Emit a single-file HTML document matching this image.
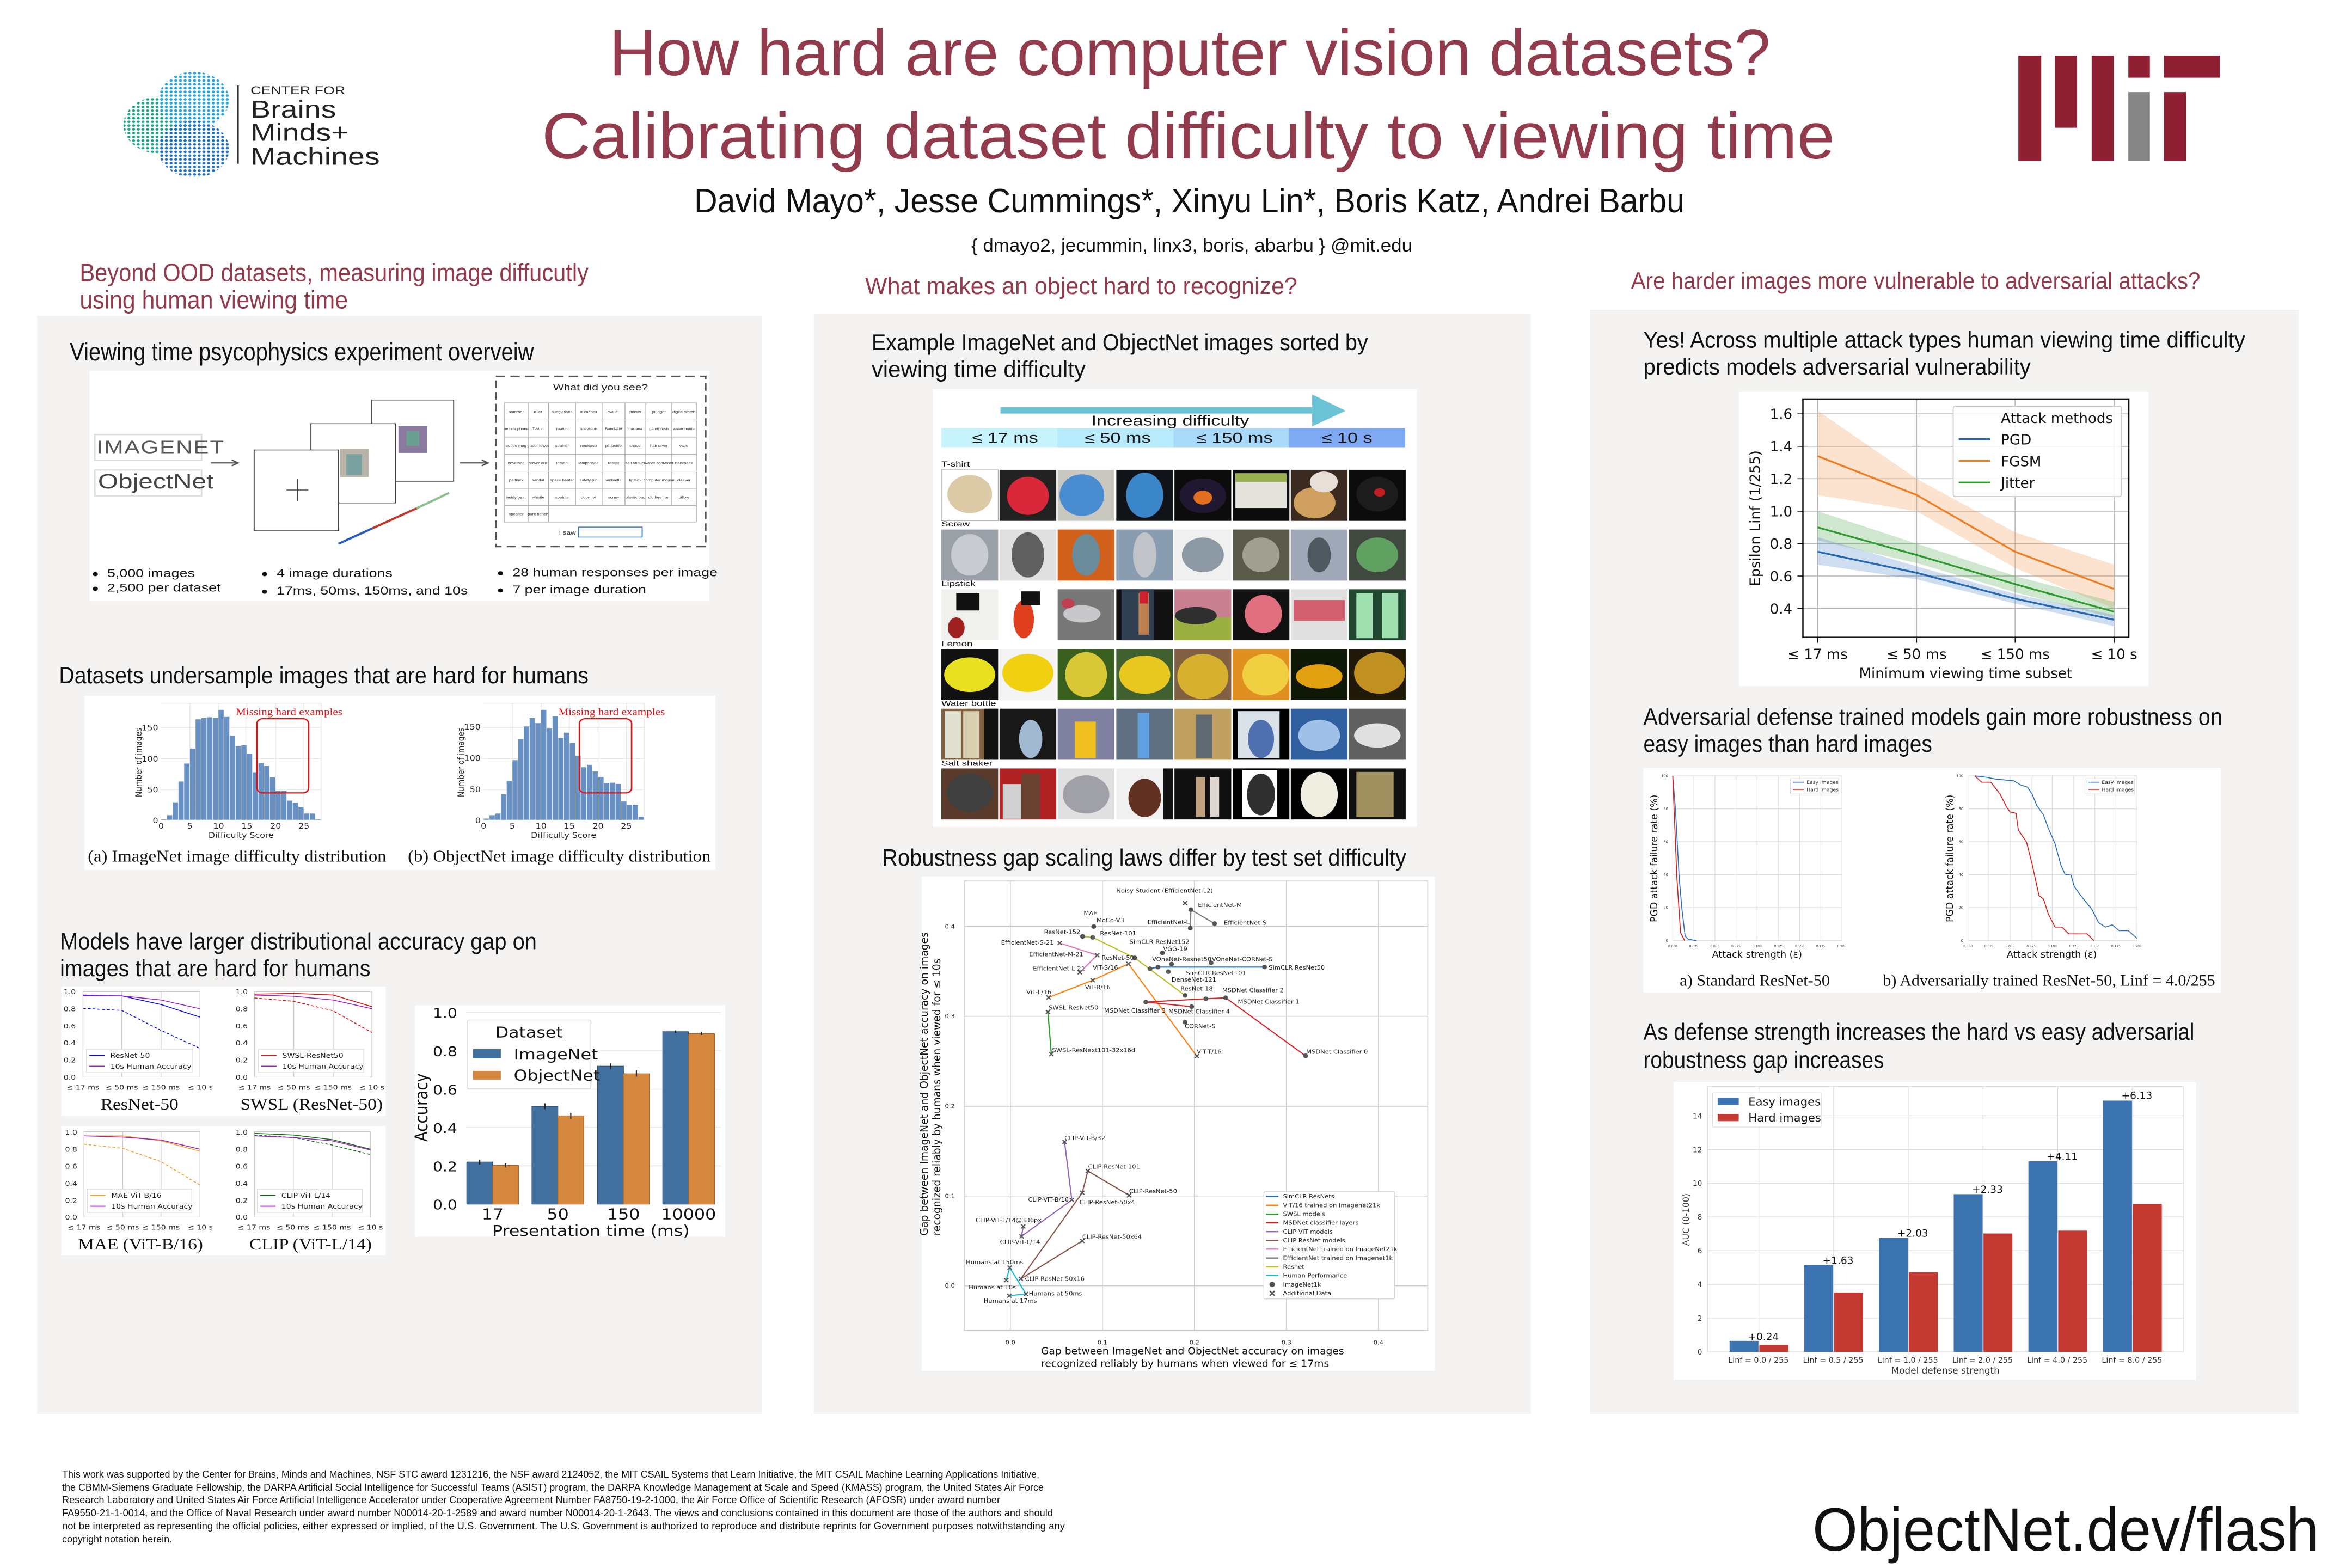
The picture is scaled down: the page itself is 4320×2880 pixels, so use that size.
<!DOCTYPE html>
<html><head><meta charset="utf-8"><style>
html,body{margin:0;padding:0;background:#fff;width:4320px;height:2880px;overflow:hidden}
svg{display:block}
.s{font-family:"Liberation Sans",sans-serif}
.d{font-family:"DejaVu Sans","Liberation Sans",sans-serif}
.r{font-family:"Liberation Serif",serif}
</style></head><body>
<svg width="4320" height="2880" viewBox="0 0 4320 2880" xmlns="http://www.w3.org/2000/svg">
<defs>
<pattern id="pg" width="9" height="9" patternUnits="userSpaceOnUse"><circle cx="4.5" cy="4.5" r="3" fill="#1aa38a"/></pattern>
<pattern id="pb" width="9" height="9" patternUnits="userSpaceOnUse"><circle cx="4.5" cy="4.5" r="3" fill="#1e6fc0"/></pattern>
<pattern id="pc" width="9" height="9" patternUnits="userSpaceOnUse"><circle cx="4.5" cy="4.5" r="3" fill="#22a6dc"/></pattern>
</defs>
<rect width="4320" height="2880" fill="#fff"/>
<!-- panels -->
<rect x="68" y="580" width="1332" height="2017" fill="#f4f3f2"/>
<rect x="1495" y="576" width="1317" height="2021" fill="#f4f3f2"/>
<rect x="2920" y="569" width="1302" height="2028" fill="#f4f3f2"/>

<!-- title -->
<g class="s" fill="#913b4c">
<text x="1119" y="138" font-size="120" textLength="2133" lengthAdjust="spacingAndGlyphs">How hard are computer vision datasets?</text>
<text x="995" y="291" font-size="120" textLength="2375" lengthAdjust="spacingAndGlyphs">Calibrating dataset difficulty to viewing time</text>
<text x="1589" y="540" font-size="44" textLength="794" lengthAdjust="spacingAndGlyphs">What makes an object hard to recognize?</text>
</g>
<text class="s" x="1275" y="390" font-size="62" textLength="1819" lengthAdjust="spacingAndGlyphs" fill="#111">David Mayo*, Jesse Cummings*, Xinyu Lin*, Boris Katz, Andrei Barbu</text>
<text class="s" x="1784" y="462" font-size="33" textLength="810" lengthAdjust="spacingAndGlyphs" fill="#111">{ dmayo2, jecummin, linx3, boris, abarbu } @mit.edu</text>
<text class="s" x="1620" y="1590" font-size="44" textLength="963" lengthAdjust="spacingAndGlyphs" fill="#111">Robustness gap scaling laws differ by test set difficulty</text>

<!-- footer -->
<g class="s" fill="#111" font-size="18">
<text x="114" y="2714" textLength="1795" lengthAdjust="spacingAndGlyphs">This work was supported by the Center for Brains, Minds and Machines, NSF STC award 1231216, the NSF award 2124052, the MIT CSAIL Systems that Learn Initiative, the MIT CSAIL Machine Learning Applications Initiative,</text>
<text x="114" y="2738" textLength="1803" lengthAdjust="spacingAndGlyphs">the CBMM-Siemens Graduate Fellowship, the DARPA Artificial Social Intelligence for Successful Teams (ASIST) program, the DARPA Knowledge Management at Scale and Speed (KMASS) program, the United States Air Force</text>
<text x="114" y="2761" textLength="1723" lengthAdjust="spacingAndGlyphs">Research Laboratory and United States Air Force Artificial Intelligence Accelerator under Cooperative Agreement Number FA8750-19-2-1000, the Air Force Office of Scientific Research (AFOSR) under award number</text>
<text x="114" y="2785" textLength="1820" lengthAdjust="spacingAndGlyphs">FA9550-21-1-0014, and the Office of Naval Research under award number N00014-20-1-2589 and award number N00014-20-1-2643. The views and conclusions contained in this document are those of the authors and should</text>
<text x="114" y="2809" textLength="1842" lengthAdjust="spacingAndGlyphs">not be interpreted as representing the official policies, either expressed or implied, of the U.S. Government. The U.S. Government is authorized to reproduce and distribute reprints for Government purposes notwithstanding any</text>
<text x="114" y="2833">copyright notation herein.</text>
</g>
<text class="s" x="3329" y="2848" font-size="112" textLength="930" lengthAdjust="spacingAndGlyphs" fill="#111">ObjectNet.dev/flash</text>

<!-- ZOOM1 region -->
<g transform="translate(0,0) scale(0.95663,0.76531)">
<circle cx="305" cy="300" r="68" fill="url(#pg)"/>
<circle cx="372" cy="240" r="68" fill="url(#pc)"/>
<circle cx="372" cy="358" r="68" fill="url(#pb)"/>
<line x1="457" y1="205" x2="457" y2="393" stroke="#333" stroke-width="3"/>
<g class="s" fill="#222">
<text x="481" y="226" font-size="28">CENTER FOR</text>
<text x="481" y="282" font-size="58">Brains</text>
<text x="481" y="338" font-size="58">Minds+</text>
<text x="481" y="395" font-size="58">Machines</text>
</g>
<g class="s" fill="#913b4c" font-size="60">
<text x="153" y="675" textLength="977" lengthAdjust="spacingAndGlyphs">Beyond OOD datasets, measuring image diffucutly</text>
<text x="153" y="740" textLength="515" lengthAdjust="spacingAndGlyphs">using human viewing time</text>
</g>
<text class="s" x="134" y="865" font-size="60" textLength="891" lengthAdjust="spacingAndGlyphs" fill="#111">Viewing time psycophysics experiment overveiw</text>
<rect x="172" y="890" width="1190" height="553" fill="#fff"/>
<rect x="182" y="1043" width="205" height="62" fill="#fff" stroke="#ddd" stroke-width="3"/>
<text class="s" x="186" y="1088" font-size="44" fill="#555" letter-spacing="2">IMAGENET</text>
<rect x="182" y="1128" width="205" height="62" fill="#fff" stroke="#ddd" stroke-width="3"/>
<text class="s" x="188" y="1172" font-size="50" fill="#444">ObjectNet</text>
<path d="M405 1111H455M445 1104l12 7-12 7M883 1111H935M925 1104l12 7-12 7" stroke="#555" stroke-width="3" fill="none"/>
<rect x="714" y="960" width="157" height="195" fill="#fff" stroke="#444" stroke-width="2"/>
<rect x="765" y="1022" width="55" height="65" fill="#8a7aa0"/>
<rect x="780" y="1035" width="25" height="35" fill="#6aa090"/>
<rect x="597" y="1017" width="162" height="190" fill="#fff" stroke="#444" stroke-width="2"/>
<rect x="653" y="1077" width="55" height="68" fill="#b8b4a8"/>
<rect x="665" y="1090" width="30" height="50" fill="#7aa0a0"/>
<rect x="488" y="1080" width="162" height="194" fill="#fff" stroke="#444" stroke-width="2"/>
<path d="M550 1176H592M571 1150V1202" stroke="#444" stroke-width="2"/>
<path d="M650 1305L715 1268" stroke="#2a5cc0" stroke-width="5"/>
<path d="M715 1268L800 1220" stroke="#c0392b" stroke-width="5"/>
<path d="M800 1220L862 1183" stroke="#8cc08c" stroke-width="5"/>
<rect x="952" y="903" width="403" height="409" fill="none" stroke="#555" stroke-width="3" stroke-dasharray="18,10"/>
<text class="s" x="1153" y="937" font-size="22" text-anchor="middle" fill="#222">What did you see?</text>
<g stroke="#aaa" stroke-width="1.5" fill="none">
<rect x="969" y="967" width="368" height="286"/>
<path d="M969 1008H1337M969 1049H1337M969 1090H1337M969 1131H1337M969 1172H1337M969 1213H1337"/>
<path d="M1014 967V1253M1053 967V1253M1105 967V1213M1156 967V1213M1200 967V1213M1240 967V1213M1290 967V1213"/>
</g>
<g class="s" font-size="8" fill="#333" text-anchor="middle">
<text x="991" y="991">hammer</text><text x="1033" y="991">ruler</text><text x="1079" y="991">sunglasses</text><text x="1130" y="991">dumbbell</text><text x="1178" y="991">wallet</text><text x="1220" y="991">printer</text><text x="1265" y="991">plunger</text><text x="1313" y="991">digital watch</text>
<text x="991" y="1032">mobile phone</text><text x="1033" y="1032">T-shirt</text><text x="1079" y="1032">match</text><text x="1130" y="1032">television</text><text x="1178" y="1032">Band-Aid</text><text x="1220" y="1032">banana</text><text x="1265" y="1032">paintbrush</text><text x="1313" y="1032">water bottle</text>
<text x="991" y="1073">coffee mug</text><text x="1033" y="1073">paper towel</text><text x="1079" y="1073">strainer</text><text x="1130" y="1073">necklace</text><text x="1178" y="1073">pill bottle</text><text x="1220" y="1073">shovel</text><text x="1265" y="1073">hair dryer</text><text x="1313" y="1073">vase</text>
<text x="991" y="1114">envelope</text><text x="1033" y="1114">power drill</text><text x="1079" y="1114">lemon</text><text x="1130" y="1114">lampshade</text><text x="1178" y="1114">racket</text><text x="1220" y="1114">salt shaker</text><text x="1265" y="1114">waste container</text><text x="1313" y="1114">backpack</text>
<text x="991" y="1155">padlock</text><text x="1033" y="1155">sandal</text><text x="1079" y="1155">space heater</text><text x="1130" y="1155">safety pin</text><text x="1178" y="1155">umbrella</text><text x="1220" y="1155">lipstick</text><text x="1265" y="1155">computer mouse</text><text x="1313" y="1155">cleaver</text>
<text x="991" y="1196">teddy bear</text><text x="1033" y="1196">whistle</text><text x="1079" y="1196">spatula</text><text x="1130" y="1196">doormat</text><text x="1178" y="1196">screw</text><text x="1220" y="1196">plastic bag</text><text x="1265" y="1196">clothes iron</text><text x="1313" y="1196">pillow</text>
<text x="991" y="1237">speaker</text><text x="1033" y="1237">park bench</text>
</g>
<text class="s" x="1073" y="1283" font-size="14" fill="#333">I saw a</text>
<rect x="1111" y="1265" width="122" height="24" fill="#fff" stroke="#3a78c8" stroke-width="2"/>
<g class="s" font-size="28" fill="#111">
<circle cx="183" cy="1378" r="5"/><circle cx="183" cy="1413" r="5"/>
<circle cx="508" cy="1378" r="5"/><circle cx="508" cy="1420" r="5"/>
<circle cx="961" cy="1376" r="5"/><circle cx="961" cy="1417" r="5"/>
<text x="206" y="1385">5,000 images</text><text x="206" y="1420">2,500 per dataset</text>
<text x="531" y="1385">4 image durations</text><text x="531" y="1427">17ms, 50ms, 150ms, and 10s</text>
<text x="984" y="1383">28 human responses per image</text><text x="984" y="1424">7 per image duration</text>
</g>
</g>

<!-- ZOOM2 region -->
<g transform="translate(3000,0) scale(0.84184,0.82908)">
<g fill="#8f1f32">
<rect x="840" y="123" width="50" height="234"/><rect x="920" y="123" width="48" height="160"/><rect x="1000" y="123" width="48" height="234"/><rect x="1080" y="123" width="47" height="49"/><rect x="1158" y="123" width="122" height="49"/><rect x="1158" y="204" width="48" height="153"/>
</g>
<rect x="1080" y="204" width="47" height="153" fill="#858585"/>
<text class="s" x="-5" y="640" font-size="52" fill="#913b4c" textLength="1242" lengthAdjust="spacingAndGlyphs">Are harder images more vulnerable to adversarial attacks?</text>
<g class="s" font-size="50" fill="#111">
<text x="22" y="770" textLength="1313" lengthAdjust="spacingAndGlyphs">Yes! Across multiple attack types human viewing time difficulty</text>
<text x="22" y="830" textLength="845" lengthAdjust="spacingAndGlyphs">predicts models adversarial vulnerability</text>
</g>
<rect x="231" y="868" width="893" height="652" fill="#fff"/>
<g stroke="#b8b8b8" stroke-width="2">
<path d="M370 1348H1081M370 1276.2H1081M370 1204.3H1081M370 1132.5H1081M370 1060.6H1081M370 988.8H1081M370 916.9H1081"/>
<path d="M402 884V1412M618 884V1412M833 884V1412M1049 884V1412"/>
</g>
<polygon points="402,909.8 618,1060.6 833,1179.2 1049,1251 1049,1348 833,1258.2 618,1132.5 402,1096.6" fill="#f5a35f" opacity="0.3"/>
<polygon points="402,1132.5 618,1204.3 833,1276.2 1049,1333.6 1049,1369.6 833,1312.1 618,1247.4 402,1197.1" fill="#5fb05f" opacity="0.3"/>
<polygon points="402,1190 618,1254.6 833,1315.7 1049,1362.4 1049,1387.5 833,1337.2 618,1283.3 402,1251" fill="#5f8fcf" opacity="0.3"/>
<polyline points="402,1010.4 618,1096.6 833,1222.3 1049,1304.9" fill="none" stroke="#f07d22" stroke-width="4"/>
<polyline points="402,1168.4 618,1229.5 833,1294.1 1049,1355.2" fill="none" stroke="#2f9a2f" stroke-width="4"/>
<polyline points="402,1222.3 618,1269 833,1326.4 1049,1373.1" fill="none" stroke="#2567b0" stroke-width="4"/>
<rect x="370" y="884" width="711" height="528" fill="none" stroke="#111" stroke-width="3"/>
<rect x="698" y="900" width="367" height="200" fill="#fff" fill-opacity="0.85" stroke="#ccc" stroke-width="2" rx="4"/>
<g class="d" font-size="31" fill="#111">
<text x="802" y="937">Attack methods</text>
<path d="M710 973H778" stroke="#2567b0" stroke-width="4"/><text x="802" y="985">PGD</text>
<path d="M710 1021H778" stroke="#f07d22" stroke-width="4"/><text x="802" y="1033">FGSM</text>
<path d="M710 1069H778" stroke="#2f9a2f" stroke-width="4"/><text x="802" y="1081">Jitter</text>
<g text-anchor="end"><text x="347" y="928">1.6</text><text x="347" y="1000">1.4</text><text x="347" y="1072">1.2</text><text x="347" y="1144">1.0</text><text x="347" y="1216">0.8</text><text x="347" y="1288">0.6</text><text x="347" y="1360">0.4</text></g>
<path d="M358 916.9H370M358 988.8H370M358 1060.6H370M358 1132.5H370M358 1204.3H370M358 1276.2H370M358 1348H370M402 1412V1424M618 1412V1424M833 1412V1424M1049 1412V1424" stroke="#111" stroke-width="2"/>
<g text-anchor="middle"><text x="402" y="1460">≤ 17 ms</text><text x="618" y="1460">≤ 50 ms</text><text x="833" y="1460">≤ 150 ms</text><text x="1049" y="1460">≤ 10 s</text>
<text x="725" y="1502">Minimum viewing time subset</text>
<text transform="translate(276,1148) rotate(-90)">Epsilon Linf (1/255)</text></g>
</g>
</g>

<!-- ZOOM3 region -->
<g transform="translate(60,1200) scale(0.88010,0.76531)">
<text class="s" x="55" y="72" font-size="56" textLength="1105" lengthAdjust="spacingAndGlyphs" fill="#111">Datasets undersample images that are hard for humans</text>
<rect x="108" y="102" width="1317" height="418" fill="#fff"/>
<g stroke="#e6e6e6" stroke-width="1.5" fill="none"><path d="M268 120H602V400M268 327H602M268 253H602M268 178H602M328 120V400M388 120V400M447 120V400M507 120V400M566 120V400"/>
<path d="M941 120H1276V400M941 327H1276M941 253H1276M941 178H1276M1001 120V400M1061 120V400M1120 120V400M1180 120V400M1239 120V400"/></g>
<g fill="#6890c2" stroke="#fff" stroke-width="1">
<path d="M268 400V398h11.9V400zM279.9 400V388h11.9V400zM291.8 400V357h12V400zM303.8 400V307h11.9V400zM315.7 400V264h11.9V400zM327.6 400V228h11.9V400zM339.5 400V158h11.9V400zM351.4 400V155h12V400zM363.4 400V153h11.9V400zM375.3 400V155h11.9V400zM387.2 400V135h11.9V400zM399.1 400V152h11.9V400zM411 400V197h12V400zM423 400V222h11.9V400zM434.9 400V220h11.9V400zM446.8 400V240h11.9V400zM458.7 400V285h11.9V400zM470.6 400V263h12V400zM482.6 400V270h11.9V400zM494.5 400V297h11.9V400zM506.4 400V330h11.9V400zM518.3 400V330h11.9V400zM530.2 400V353h12V400zM542.2 400V358h11.9V400zM554.1 400V368h11.9V400zM566 400V384h11.9V400zM577.9 400V384h11.9V400zM589.8 400V398h11.9V400z"/>
<path d="M941 400V396h12V400zM953 400V388h12V400zM965 400V384h11.9V400zM976.9 400V338h11.9V400zM988.8 400V306h12V400zM1000.8 400V256h11.9V400zM1012.7 400V205h12V400zM1024.7 400V175h11.9V400zM1036.6 400V155h12V400zM1048.6 400V167h11.9V400zM1060.5 400V135h12V400zM1072.5 400V180h11.9V400zM1084.4 400V150h12V400zM1096.4 400V203h11.9V400zM1108.3 400V190h12V400zM1120.3 400V215h11.9V400zM1132.2 400V245h12V400zM1144.2 400V273h11.9V400zM1156.1 400V267h12V400zM1168.1 400V283h11.9V400zM1180 400V296h12V400zM1192 400V311h11.9V400zM1203.9 400V310h12V400zM1215.9 400V313h11.9V400zM1227.8 400V355h12V400zM1239.8 400V363h11.9V400zM1251.7 400V363h12V400zM1263.7 400V392h11.9V400z"/>
</g>
<rect x="468" y="157" width="108" height="178" rx="12" fill="none" stroke="#e01010" stroke-width="3"/>
<rect x="1141" y="157" width="109" height="178" rx="12" fill="none" stroke="#e01010" stroke-width="3"/>
<g class="r" font-size="24" fill="#e01010"><text x="424" y="148">Missing hard examples</text><text x="1097" y="148">Missing hard examples</text></g>
<g class="d" font-size="18" fill="#222">
<g text-anchor="end"><text x="262" y="185">150</text><text x="262" y="260">100</text><text x="262" y="334">50</text><text x="262" y="408">0</text>
<text x="935" y="183">150</text><text x="935" y="258">100</text><text x="935" y="333">50</text><text x="935" y="408">0</text></g>
<g text-anchor="middle"><text x="268" y="421">0</text><text x="328" y="421">5</text><text x="388" y="421">10</text><text x="447" y="421">15</text><text x="507" y="421">20</text><text x="566" y="421">25</text>
<text x="941" y="421">0</text><text x="1001" y="421">5</text><text x="1061" y="421">10</text><text x="1120" y="421">15</text><text x="1180" y="421">20</text><text x="1239" y="421">25</text>
<text x="435" y="443">Difficulty Score</text><text x="1108" y="443">Difficulty Score</text>
<text transform="translate(227,262) rotate(-90)">Number of images</text><text transform="translate(900,262) rotate(-90)">Number of images</text></g>
</g>
<g class="r" font-size="40" fill="#111"><text x="115" y="500" textLength="623" lengthAdjust="spacingAndGlyphs">(a) ImageNet image difficulty distribution</text><text x="783" y="500" textLength="632" lengthAdjust="spacingAndGlyphs">(b) ObjectNet image difficulty distribution</text></g>
<g class="s" font-size="56" fill="#111"><text x="57" y="710" textLength="995" lengthAdjust="spacingAndGlyphs">Models have larger distributional accuracy gap on</text><text x="57" y="775" textLength="648" lengthAdjust="spacingAndGlyphs">images that are hard for humans</text></g>
<rect x="60" y="800" width="677" height="310" fill="#fff"/>
<rect x="60" y="1135" width="677" height="310" fill="#fff"/>
<!-- small plots -->
<g stroke="#ccc" stroke-width="1.5" fill="none">
<rect x="105" y="812" width="244" height="205"/><path d="M186 812V1017M268 812V1017"/>
<rect x="463" y="812" width="245" height="205"/><path d="M545 812V1017M627 812V1017"/>
<rect x="107" y="1148" width="242" height="205"/><path d="M188 1148V1353M268 1148V1353"/>
<rect x="463" y="1148" width="242" height="205"/><path d="M544 1148V1353M625 1148V1353"/>
</g>
<g fill="none" stroke-width="2">
<polyline points="105,822 186,822 268,843 349,873" stroke="#1010e0"/>
<polyline points="105,852 186,857 268,905 349,948" stroke="#1010e0" stroke-dasharray="6,4"/>
<polyline points="105,820 186,822 268,832 349,853" stroke="#a020c0"/>
<polyline points="463,818 545,816 627,820 708,848" stroke="#e01010"/>
<polyline points="463,827 545,835 627,858 708,910" stroke="#e01010" stroke-dasharray="6,4"/>
<polyline points="463,820 545,823 627,832 708,853" stroke="#a020c0"/>
<polyline points="107,1158 188,1158 268,1170 349,1195" stroke="#f0a020"/>
<polyline points="107,1178 188,1188 268,1220 349,1276" stroke="#f0a020" stroke-dasharray="6,4"/>
<polyline points="107,1158 188,1161 268,1168 349,1190" stroke="#a020c0"/>
<polyline points="463,1152 544,1156 625,1167 705,1190" stroke="#107010"/>
<polyline points="463,1156 544,1162 625,1180 705,1203" stroke="#107010" stroke-dasharray="6,4"/>
<polyline points="463,1158 544,1162 625,1170 705,1192" stroke="#a020c0"/>
</g>
<g fill="#fff" stroke="#ddd" stroke-width="1.5"><rect x="112" y="950" width="221" height="56"/><rect x="471" y="950" width="220" height="56"/><rect x="114" y="1286" width="218" height="56"/><rect x="469" y="1286" width="219" height="56"/></g>
<g stroke-width="2.5"><path d="M118 965H150" stroke="#1010e0"/><path d="M118 991H150" stroke="#a020c0"/><path d="M477 965H509" stroke="#e01010"/><path d="M477 991H509" stroke="#a020c0"/><path d="M120 1301H152" stroke="#f0a020"/><path d="M120 1327H152" stroke="#a020c0"/><path d="M475 1301H507" stroke="#107010"/><path d="M475 1327H507" stroke="#a020c0"/></g>
<g class="d" font-size="16" fill="#222">
<text x="162" y="971">ResNet-50</text><text x="162" y="997">10s Human Accuracy</text>
<text x="521" y="971">SWSL-ResNet50</text><text x="521" y="997">10s Human Accuracy</text>
<text x="164" y="1307">MAE-ViT-B/16</text><text x="164" y="1333">10s Human Accuracy</text>
<text x="519" y="1307">CLIP-ViT-L/14</text><text x="519" y="1333">10s Human Accuracy</text>
<g text-anchor="end">
<text x="90" y="818">1.0</text><text x="90" y="859">0.8</text><text x="90" y="900">0.6</text><text x="90" y="941">0.4</text><text x="90" y="982">0.2</text><text x="90" y="1023">0.0</text>
<text x="449" y="818">1.0</text><text x="449" y="859">0.8</text><text x="449" y="900">0.6</text><text x="449" y="941">0.4</text><text x="449" y="982">0.2</text><text x="449" y="1023">0.0</text>
<text x="93" y="1155">1.0</text><text x="93" y="1196">0.8</text><text x="93" y="1237">0.6</text><text x="93" y="1278">0.4</text><text x="93" y="1319">0.2</text><text x="93" y="1359">0.0</text>
<text x="449" y="1155">1.0</text><text x="449" y="1196">0.8</text><text x="449" y="1237">0.6</text><text x="449" y="1278">0.4</text><text x="449" y="1319">0.2</text><text x="449" y="1359">0.0</text>
</g>
<g text-anchor="middle">
<text x="105" y="1047">≤ 17 ms</text><text x="186" y="1047">≤ 50 ms</text><text x="268" y="1047">≤ 150 ms</text><text x="350" y="1047">≤ 10 s</text>
<text x="463" y="1047">≤ 17 ms</text><text x="545" y="1047">≤ 50 ms</text><text x="627" y="1047">≤ 150 ms</text><text x="708" y="1047">≤ 10 s</text>
<text x="107" y="1383">≤ 17 ms</text><text x="188" y="1383">≤ 50 ms</text><text x="268" y="1383">≤ 150 ms</text><text x="350" y="1383">≤ 10 s</text>
<text x="462" y="1383">≤ 17 ms</text><text x="543" y="1383">≤ 50 ms</text><text x="625" y="1383">≤ 150 ms</text><text x="705" y="1383">≤ 10 s</text>
</g>
</g>
<g class="r" font-size="38" fill="#111" text-anchor="middle"><text x="223" y="1095">ResNet-50</text><text x="582" y="1095">SWSL (ResNet-50)</text><text x="225" y="1431">MAE (ViT-B/16)</text><text x="580" y="1431">CLIP (ViT-L/14)</text></g>
<!-- bar chart -->
<rect x="798" y="845" width="647" height="555" fill="#fff"/>
<g stroke="#e8e8e8" stroke-width="2"><path d="M905 862H1437M905 954H1437M905 1046H1437M905 1138H1437M905 1230H1437"/></g>
<g fill="#41709e" stroke="#2b4e70" stroke-width="1.5"><rect x="906" y="1220.8" width="54" height="101.2"/><rect x="1042" y="1087.4" width="54" height="234.6"/><rect x="1179" y="990.8" width="54" height="331.2"/><rect x="1315" y="908" width="54" height="414"/></g>
<g fill="#d4873d" stroke="#a8642a" stroke-width="1.5"><rect x="960" y="1229" width="54" height="93"/><rect x="1096" y="1110" width="54" height="212"/><rect x="1233" y="1009" width="54" height="313"/><rect x="1369" y="912.6" width="54" height="409.4"/></g>
<path d="M933 1215V1227M987 1224V1234M1069 1080V1094M1123 1103V1117M1206 984V998M1260 1001V1016M1342 905V911M1396 909V916" stroke="#222" stroke-width="2.5"/>
<rect x="907" y="880" width="258" height="165" fill="#fff" stroke="#ddd" stroke-width="2" rx="4"/>
<rect x="919" y="950" width="58" height="22" fill="#41709e"/><rect x="919" y="1002" width="58" height="21" fill="#d4873d"/>
<g class="d" font-size="36" fill="#111"><text x="1036" y="922" text-anchor="middle">Dataset</text><text x="1004" y="975">ImageNet</text><text x="1004" y="1025">ObjectNet</text>
<g text-anchor="end" font-size="32"><text x="886" y="875">1.0</text><text x="886" y="967">0.8</text><text x="886" y="1059">0.6</text><text x="886" y="1151">0.4</text><text x="886" y="1243">0.2</text><text x="886" y="1335">0.0</text></g>
<g text-anchor="middle"><text x="960" y="1358">17</text><text x="1096" y="1358">50</text><text x="1233" y="1358">150</text><text x="1369" y="1358">10000</text><text x="1165" y="1398">Presentation time (ms)</text>
<text transform="translate(824,1090) rotate(-90)">Accuracy</text></g></g>
</g>

<!-- ZOOM4 region -->
<g transform="translate(1500,560) scale(0.85459,0.63776)">
<g class="s" font-size="66" fill="#111"><text x="118" y="130" textLength="1067" lengthAdjust="spacingAndGlyphs">Example ImageNet and ObjectNet images sorted by</text><text x="118" y="208" textLength="460" lengthAdjust="spacingAndGlyphs">viewing time difficulty</text></g>
<rect x="250" y="243" width="1040" height="1260" fill="#fff"/>
<rect x="395" y="295" width="670" height="18" fill="#6cc3d5"/>
<polygon points="1065,258 1137,305 1065,350" fill="#6cc3d5"/>
<text class="s" x="760" y="347" font-size="40" text-anchor="middle" fill="#111">Increasing difficulty</text>
<rect x="268" y="355" width="249" height="55" fill="#c6f3fc"/><rect x="517" y="355" width="250" height="55" fill="#b7ebfb"/><rect x="767" y="355" width="248" height="55" fill="#a8d9f8"/><rect x="1015" y="355" width="250" height="55" fill="#7fa9f3"/>
<g class="s" font-size="40" fill="#111" text-anchor="middle"><text x="405" y="397">≤ 17 ms</text><text x="647" y="397">≤ 50 ms</text><text x="898" y="397">≤ 150 ms</text><text x="1140" y="397">≤ 10 s</text></g>
<g class="s" font-size="22" fill="#111"><text x="268" y="466">T-shirt</text><text x="268" y="638">Screw</text><text x="268" y="810">Lipstick</text><text x="268" y="983">Lemon</text><text x="268" y="1155">Water bottle</text><text x="268" y="1327">Salt shaker</text></g>
<!-- row1 -->
<rect x="268" y="475" width="122" height="147" fill="#fff" stroke="#888"/><ellipse cx="329" cy="545" rx="48" ry="55" fill="#dccaa6"/>
<rect x="393" y="475" width="122" height="147" fill="#222"/><ellipse cx="454" cy="550" rx="45" ry="55" fill="#d8283a"/>
<rect x="518" y="475" width="122" height="147" fill="#c8c8c0"/><ellipse cx="570" cy="548" rx="48" ry="60" fill="#4a8cd0"/>
<rect x="644" y="475" width="122" height="147" fill="#101418"/><ellipse cx="705" cy="548" rx="40" ry="65" fill="#3a86c8"/>
<rect x="769" y="475" width="122" height="147" fill="#0c0c0c"/><ellipse cx="830" cy="550" rx="50" ry="50" fill="#201830"/><circle cx="830" cy="555" r="20" fill="#e07020"/>
<rect x="894" y="475" width="122" height="147" fill="#0c0c0c"/><rect x="900" y="485" width="110" height="100" fill="#e4e2dc"/><rect x="900" y="485" width="110" height="25" fill="#9ab050"/>
<rect x="1019" y="475" width="122" height="147" fill="#3a2a20"/><ellipse cx="1070" cy="570" rx="45" ry="45" fill="#d0a060"/><ellipse cx="1090" cy="510" rx="30" ry="30" fill="#e8e0d8"/>
<rect x="1144" y="475" width="122" height="147" fill="#0c0c0c"/><ellipse cx="1205" cy="545" rx="45" ry="50" fill="#1c1c1c"/><circle cx="1210" cy="540" r="12" fill="#c02020"/>
<!-- row2 -->
<rect x="268" y="647" width="122" height="147" fill="#9aa0a8"/><ellipse cx="329" cy="720" rx="40" ry="60" fill="#c8ccd0"/>
<rect x="393" y="647" width="122" height="147" fill="#e0e0e0"/><ellipse cx="454" cy="720" rx="35" ry="65" fill="#606060"/>
<rect x="518" y="647" width="122" height="147" fill="#d0601a"/><ellipse cx="579" cy="720" rx="30" ry="60" fill="#6a8c9a"/>
<rect x="644" y="647" width="122" height="147" fill="#8a9cb0"/><ellipse cx="705" cy="720" rx="25" ry="65" fill="#c0c4c8"/>
<rect x="769" y="647" width="122" height="147" fill="#f0f0f0"/><ellipse cx="830" cy="720" rx="45" ry="50" fill="#8c98a4"/>
<rect x="894" y="647" width="122" height="147" fill="#5a5a4a"/><ellipse cx="955" cy="720" rx="40" ry="50" fill="#a0a090"/>
<rect x="1019" y="647" width="122" height="147" fill="#a0a8b8"/><ellipse cx="1080" cy="720" rx="25" ry="50" fill="#505860"/>
<rect x="1144" y="647" width="122" height="147" fill="#404840"/><ellipse cx="1205" cy="720" rx="45" ry="50" fill="#60a060"/>
<!-- row3 -->
<rect x="268" y="819" width="122" height="147" fill="#f0f0ec"/><rect x="300" y="830" width="50" height="50" fill="#111"/><ellipse cx="300" cy="930" rx="18" ry="30" fill="#a02020"/>
<rect x="393" y="819" width="122" height="147" fill="#fff"/><ellipse cx="445" cy="905" rx="22" ry="55" fill="#e04020"/><rect x="440" y="825" width="40" height="40" fill="#111"/>
<rect x="518" y="819" width="122" height="147" fill="#777"/><ellipse cx="570" cy="890" rx="40" ry="25" fill="#c8c8cc"/><circle cx="540" cy="860" r="14" fill="#c04050"/>
<rect x="644" y="819" width="122" height="147" fill="#111"/><rect x="655" y="819" width="70" height="147" fill="#304050"/><rect x="692" y="830" width="22" height="120" fill="#c08050"/><rect x="694" y="825" width="18" height="35" fill="#d02030"/>
<rect x="769" y="819" width="122" height="147" fill="#c88090"/><rect x="769" y="900" width="122" height="66" fill="#9ab040"/><ellipse cx="815" cy="895" rx="45" ry="25" fill="#303030"/>
<rect x="894" y="819" width="122" height="147" fill="#111"/><ellipse cx="960" cy="890" rx="40" ry="55" fill="#e07080"/>
<rect x="1019" y="819" width="122" height="147" fill="#e0e0e0"/><rect x="1025" y="850" width="110" height="60" fill="#d06070"/>
<rect x="1144" y="819" width="122" height="147" fill="#204830"/><rect x="1160" y="830" width="35" height="130" fill="#a0e0b0"/><rect x="1215" y="830" width="35" height="130" fill="#a0e0b0"/>
<!-- row4 -->
<rect x="268" y="991" width="122" height="147" fill="#111"/><ellipse cx="329" cy="1065" rx="55" ry="50" fill="#e8e020"/>
<rect x="393" y="991" width="122" height="147" fill="#f4f4f4"/><ellipse cx="454" cy="1060" rx="55" ry="55" fill="#f0d010"/>
<rect x="518" y="991" width="122" height="147" fill="#3a6020"/><ellipse cx="579" cy="1065" rx="45" ry="65" fill="#d8c838"/>
<rect x="644" y="991" width="122" height="147" fill="#406030"/><ellipse cx="705" cy="1065" rx="55" ry="55" fill="#e8c820"/>
<rect x="769" y="991" width="122" height="147" fill="#806040"/><ellipse cx="830" cy="1070" rx="55" ry="65" fill="#d8b030"/>
<rect x="894" y="991" width="122" height="147" fill="#e09020"/><ellipse cx="965" cy="1065" rx="50" ry="60" fill="#f0d040"/>
<rect x="1019" y="991" width="122" height="147" fill="#101808"/><ellipse cx="1080" cy="1070" rx="50" ry="35" fill="#e0a010"/>
<rect x="1144" y="991" width="122" height="147" fill="#201808"/><ellipse cx="1210" cy="1060" rx="55" ry="60" fill="#c09020"/>
<!-- row5 -->
<rect x="268" y="1163" width="122" height="147" fill="#806040"/><rect x="275" y="1170" width="35" height="135" fill="#e0e0d0"/><rect x="315" y="1170" width="35" height="135" fill="#d8d0b0"/><rect x="360" y="1163" width="30" height="147" fill="#111"/>
<rect x="393" y="1163" width="122" height="147" fill="#181818"/><ellipse cx="460" cy="1250" rx="25" ry="55" fill="#a0b8d0"/>
<rect x="518" y="1163" width="122" height="147" fill="#8080a0"/><rect x="555" y="1200" width="45" height="105" fill="#f0c020"/>
<rect x="644" y="1163" width="122" height="147" fill="#607080"/><rect x="690" y="1175" width="25" height="130" fill="#60a0e0"/>
<rect x="769" y="1163" width="122" height="147" fill="#c0a060"/><rect x="815" y="1180" width="35" height="125" fill="#606870"/>
<rect x="894" y="1163" width="122" height="147" fill="#000"/><rect x="905" y="1170" width="90" height="135" fill="#d8e0e8"/><ellipse cx="955" cy="1250" rx="28" ry="55" fill="#5070b0"/>
<rect x="1019" y="1163" width="122" height="147" fill="#3060a0"/><ellipse cx="1080" cy="1240" rx="45" ry="45" fill="#a0c0e8"/>
<rect x="1144" y="1163" width="122" height="147" fill="#606060"/><ellipse cx="1205" cy="1240" rx="50" ry="35" fill="#e0e0e0"/>
<!-- row6 -->
<rect x="268" y="1335" width="122" height="147" fill="#5a3a2a"/><ellipse cx="329" cy="1405" rx="50" ry="55" fill="#404040"/>
<rect x="393" y="1335" width="122" height="147" fill="#b02020"/><rect x="400" y="1380" width="40" height="100" fill="#d0d0d0"/><rect x="440" y="1350" width="40" height="130" fill="#6a4030"/>
<rect x="518" y="1335" width="122" height="147" fill="#e0e0e0"/><ellipse cx="579" cy="1410" rx="50" ry="55" fill="#a0a0a8"/>
<rect x="644" y="1335" width="122" height="147" fill="#f0f0f0"/><ellipse cx="705" cy="1420" rx="35" ry="55" fill="#603020"/><rect x="745" y="1335" width="21" height="147" fill="#111"/>
<rect x="769" y="1335" width="122" height="147" fill="#101010"/><rect x="815" y="1360" width="20" height="115" fill="#c0a080"/><rect x="845" y="1360" width="20" height="115" fill="#e0d8d0"/>
<rect x="894" y="1335" width="122" height="147" fill="#000"/><rect x="915" y="1340" width="75" height="135" fill="#fff"/><ellipse cx="955" cy="1410" rx="30" ry="60" fill="#303030"/>
<rect x="1019" y="1335" width="122" height="147" fill="#000"/><ellipse cx="1080" cy="1410" rx="40" ry="65" fill="#f0eee0"/>
<rect x="1144" y="1335" width="122" height="147" fill="#101010"/><rect x="1160" y="1345" width="80" height="130" fill="#a09060"/>
</g>

<!-- ZOOM5 region -->
<g transform="translate(3000,1280) scale(0.84184,0.82908)">
<g class="s" font-size="52" fill="#111">
<text x="22" y="62" textLength="1263" lengthAdjust="spacingAndGlyphs">Adversarial defense trained models gain more robustness on</text>
<text x="22" y="122" textLength="630" lengthAdjust="spacingAndGlyphs">easy images than hard images</text>
<text x="22" y="760" textLength="1202" lengthAdjust="spacingAndGlyphs">As defense strength increases the hard vs easy adversarial</text>
<text x="22" y="822" textLength="525" lengthAdjust="spacingAndGlyphs">robustness gap increases</text>
</g>
<rect x="22" y="158" width="1260" height="497" fill="#fff"/>
<g stroke="#ddd" stroke-width="1.5" fill="none">
<rect x="86" y="175" width="369" height="365"/>
<path d="M132 175V540M178 175V540M224 175V540M270 175V540M317 175V540M363 175V540M409 175V540M86 248H455M86 321H455M86 394H455M86 467H455"/>
<rect x="730" y="175" width="369" height="365"/>
<path d="M776 175V540M822 175V540M868 175V540M914 175V540M961 175V540M1007 175V540M1053 175V540M730 248H1099M730 321H1099M730 394H1099M730 467H1099"/>
</g>
<polyline points="86,175 92,250 100,400 106,470 113,530 120,537 138,540" fill="none" stroke="#2a6fb8" stroke-width="2"/>
<polyline points="86,175 95,400 103,522 112,540" fill="none" stroke="#d02020" stroke-width="2"/>
<polyline points="745,175 770,178 790,182 830,186 845,195 860,200 870,215 880,240 895,262 905,290 920,325 933,373 942,393 955,395 962,420 980,445 1000,470 1015,500 1030,510 1045,505 1060,518 1080,518 1099,535" fill="none" stroke="#2a6fb8" stroke-width="2"/>
<polyline points="745,175 760,189 780,189 800,215 815,245 822,255 835,258 840,295 858,322 870,370 885,440 895,448 905,480 920,510 935,510 950,525 990,525 1005,540" fill="none" stroke="#d02020" stroke-width="2"/>
<g fill="#fff" stroke="#ccc"><rect x="343" y="181" width="105" height="34"/><rect x="988" y="181" width="105" height="34"/></g>
<g stroke-width="2"><path d="M348 189H372M993 189H1017" stroke="#2a6fb8"/><path d="M348 205H372M993 205H1017" stroke="#d02020"/></g>
<g class="d" font-size="11" fill="#333"><text x="378" y="193">Easy images</text><text x="378" y="209">Hard images</text><text x="1022" y="193">Easy images</text><text x="1022" y="209">Hard images</text>
<g font-size="8" text-anchor="end"><text x="76" y="178">100</text><text x="76" y="251">80</text><text x="76" y="324">60</text><text x="76" y="397">40</text><text x="76" y="470">20</text><text x="76" y="543">0</text>
<text x="720" y="178">100</text><text x="720" y="251">80</text><text x="720" y="324">60</text><text x="720" y="397">40</text><text x="720" y="470">20</text><text x="720" y="543">0</text></g>
<g font-size="7" text-anchor="middle"><text x="86" y="555">0.000</text><text x="132" y="555">0.025</text><text x="178" y="555">0.050</text><text x="224" y="555">0.075</text><text x="270" y="555">0.100</text><text x="317" y="555">0.125</text><text x="363" y="555">0.150</text><text x="409" y="555">0.175</text><text x="455" y="555">0.200</text>
<text x="730" y="555">0.000</text><text x="776" y="555">0.025</text><text x="822" y="555">0.050</text><text x="868" y="555">0.075</text><text x="914" y="555">0.100</text><text x="961" y="555">0.125</text><text x="1007" y="555">0.150</text><text x="1053" y="555">0.175</text><text x="1099" y="555">0.200</text></g>
<g font-size="21" fill="#111" text-anchor="middle"><text x="270" y="578">Attack strength (ε)</text><text x="913" y="578">Attack strength (ε)</text>
<text transform="translate(52,358) rotate(-90)">PGD attack failure rate (%)</text><text transform="translate(697,358) rotate(-90)">PGD attack failure rate (%)</text></g>
</g>
<g class="r" font-size="36" fill="#111" text-anchor="middle"><text x="265" y="640">a) Standard ResNet-50</text><text x="907" y="640" textLength="725" lengthAdjust="spacingAndGlyphs">b) Adversarially trained ResNet-50, Linf = 4.0/255</text></g>
<rect x="88" y="853" width="1140" height="660" fill="#fff"/>
<g stroke="#ddd" stroke-width="1.5" fill="none">
<rect x="162" y="863" width="1038" height="588"/>
<path d="M162 1376.3H1200M162 1301.6H1200M162 1226.8H1200M162 1152.1H1200M162 1077.4H1200M162 1002.8H1200M162 928H1200M274 863V1451M437 863V1451M600 863V1451M763 863V1451M926 863V1451M1089 863V1451"/>
</g>
<g fill="#3b73b0"><rect x="210" y="1426.7" width="63" height="24.3"/><rect x="373" y="1258.6" width="63" height="192.4"/><rect x="536" y="1198.8" width="63" height="252.2"/><rect x="699" y="1101.7" width="63" height="349.3"/><rect x="862" y="1028.8" width="63" height="422.2"/><rect x="1025" y="894.3" width="63" height="556.7"/></g>
<g fill="#c43a32"><rect x="275" y="1435.7" width="63" height="15.3"/><rect x="438" y="1319.5" width="63" height="131.5"/><rect x="601" y="1274.7" width="63" height="176.3"/><rect x="764" y="1188.7" width="63" height="262.3"/><rect x="927" y="1182.4" width="63" height="268.6"/><rect x="1090" y="1123.4" width="63" height="327.6"/></g>
<g class="d" fill="#111">
<g font-size="22"><text x="250" y="1425">+0.24</text><text x="413" y="1256">+1.63</text><text x="576" y="1196">+2.03</text><text x="739" y="1099">+2.33</text><text x="902" y="1026">+4.11</text><text x="1065" y="891">+6.13</text></g>
<g font-size="17" text-anchor="middle" fill="#333"><text x="273" y="1475">Linf = 0.0 / 255</text><text x="436" y="1475">Linf = 0.5 / 255</text><text x="599" y="1475">Linf = 1.0 / 255</text><text x="762" y="1475">Linf = 2.0 / 255</text><text x="925" y="1475">Linf = 4.0 / 255</text><text x="1088" y="1475">Linf = 8.0 / 255</text>
<text x="681" y="1499" font-size="20">Model defense strength</text><text transform="translate(121,1158) rotate(-90)" font-size="19">AUC (0-100)</text></g>
<g font-size="16" text-anchor="end" fill="#333"><text x="150" y="1457">0</text><text x="150" y="1382">2</text><text x="150" y="1307">4</text><text x="150" y="1233">6</text><text x="150" y="1158">8</text><text x="150" y="1083">10</text><text x="150" y="1009">12</text><text x="150" y="934">14</text></g>
</g>
<rect x="173" y="877" width="237" height="76" fill="#fff" stroke="#ddd" stroke-width="1.5" rx="3"/>
<rect x="184" y="888" width="46" height="16" fill="#3b73b0"/><rect x="184" y="924" width="46" height="16" fill="#c43a32"/>
<g class="d" font-size="25" fill="#111"><text x="251" y="905">Easy images</text><text x="251" y="941">Hard images</text></g>
</g>

<!-- ZOOM6 region: scatter -->
<g transform="translate(1690,1600) scale(0.63776,0.60587)">
<rect x="5" y="16" width="1477" height="1499" fill="#fff"/>
<g stroke="#ccc" stroke-width="2.5" fill="none"><rect x="127" y="30" width="1335" height="1362"/>
<path d="M260 30V1392M525 30V1392M790 30V1392M1055 30V1392M1320 30V1392M127 1257H1462M127 985H1462M127 713H1462M127 440H1462M127 168H1462"/></g>
<g fill="none" stroke-width="3.5">
<polyline points="992,291 685,291 662,296" stroke="#1f6fbf"/>
<polyline points="797,561 600,281 497,331 370,383" stroke="#ff7f0e"/>
<polyline points="368,427 378,555" stroke="#2ca02c"/>
<polyline points="1110,560 880,384 823,387 650,397 782,411" stroke="#d62728"/>
<polyline points="416,821 437,997 292,1107 297,1077" stroke="#9467bd"/>
<polyline points="602,983 483,909 467,975 290,1236 467,1121" stroke="#8c564b"/>
<polyline points="402,218 510,255 460,307" stroke="#e377c2"/>
<polyline points="848,159 780,117 778,173" stroke="#7f7f7f"/>
<polyline points="763,377 618,263 497,201 468,198" stroke="#bcbd22"/>
<polyline points="257,1287 305,1282 258,1202 248,1240" stroke="#17becf"/>
</g>
<g fill="#555">
<circle cx="500" cy="168" r="7"/><circle cx="468" cy="198" r="7"/><circle cx="497" cy="201" r="7"/><circle cx="618" cy="263" r="7"/><circle cx="685" cy="291" r="7"/><circle cx="662" cy="296" r="7"/><circle cx="698" cy="248" r="7"/><circle cx="724" cy="282" r="7"/><circle cx="838" cy="278" r="7"/><circle cx="715" cy="305" r="7"/><circle cx="763" cy="377" r="7"/><circle cx="823" cy="387" r="7"/><circle cx="880" cy="384" r="7"/><circle cx="650" cy="397" r="7"/><circle cx="782" cy="411" r="7"/><circle cx="763" cy="458" r="7"/><circle cx="1110" cy="560" r="7"/><circle cx="992" cy="291" r="7"/><circle cx="780" cy="117" r="7"/><circle cx="848" cy="159" r="7"/><circle cx="778" cy="173" r="7"/>
</g>
<g stroke="#555" stroke-width="3.5">
<path d="M757 91l12 12m0-12l-12 12M396 212l12 12m0-12l-12 12M504 249l12 12m0-12l-12 12M454 301l12 12m0-12l-12 12M491 325l12 12m0-12l-12 12M364 377l12 12m0-12l-12 12M362 421l12 12m0-12l-12 12M372 549l12 12m0-12l-12 12M791 555l12 12m0-12l-12 12M594 275l12 12m0-12l-12 12"/>
<path d="M410 815l12 12m0-12l-12 12M431 991l12 12m0-12l-12 12M286 1101l12 12m0-12l-12 12M291 1071l12 12m0-12l-12 12M477 903l12 12m0-12l-12 12M596 977l12 12m0-12l-12 12M461 969l12 12m0-12l-12 12M284 1230l12 12m0-12l-12 12M461 1115l12 12m0-12l-12 12M251 1281l12 12m0-12l-12 12M299 1276l12 12m0-12l-12 12M252 1196l12 12m0-12l-12 12M242 1234l12 12m0-12l-12 12"/>
</g>
<g class="d" font-size="18" fill="#222">
<text x="565" y="65">Noisy Student (EfficientNet-L2)</text><text x="800" y="109">EfficientNet-M</text><text x="655" y="161">EfficientNet-L</text><text x="875" y="163">EfficientNet-S</text>
<text x="471" y="134">MAE</text><text x="508" y="155">MoCo-V3</text><text x="357" y="191">ResNet-152</text><text x="518" y="195">ResNet-101</text>
<text x="233" y="223">EfficientNet-S-21</text><text x="603" y="220">SimCLR ResNet152</text><text x="700" y="242">VGG-19</text><text x="314" y="258">EfficientNet-M-21</text>
<text x="523" y="269">ResNet-50</text><text x="668" y="273">VOneNet-Resnet50</text><text x="840" y="273">VOneNet-CORNet-S</text><text x="1004" y="299">SimCLR ResNet50</text>
<text x="325" y="301">EfficientNet-L-21</text><text x="497" y="299">ViT-S/16</text><text x="766" y="315">SimCLR ResNet101</text><text x="724" y="335">DenseNet-121</text>
<text x="475" y="358">ViT-B/16</text><text x="750" y="362">ResNet-18</text><text x="870" y="367">MSDNet Classifier 2</text><text x="306" y="373">ViT-L/16</text>
<text x="915" y="402">MSDNet Classifier 1</text><text x="370" y="420">SWSL-ResNet50</text><text x="530" y="429">MSDNet Classifier 3</text><text x="715" y="432">MSDNet Classifier 4</text>
<text x="762" y="476">CORNet-S</text><text x="380" y="549">SWSL-ResNext101-32x16d</text><text x="797" y="554">ViT-T/16</text><text x="1112" y="554">MSDNet Classifier 0</text>
<text x="416" y="815">CLIP-ViT-B/32</text><text x="484" y="902">CLIP-ResNet-101</text><text x="602" y="976">CLIP-ResNet-50</text><text x="311" y="1002">CLIP-ViT-B/16</text>
<text x="459" y="1010">CLIP-ResNet-50x4</text><text x="160" y="1065">CLIP-ViT-L/14@336px</text><text x="467" y="1115">CLIP-ResNet-50x64</text><text x="230" y="1131">CLIP-ViT-L/14</text>
<text x="132" y="1192">Humans at 150ms</text><text x="302" y="1242">CLIP-ResNet-50x16</text><text x="140" y="1268">Humans at 10s</text><text x="313" y="1287">Humans at 50ms</text><text x="183" y="1309">Humans at 17ms</text>
<g text-anchor="middle"><text x="260" y="1435">0.0</text><text x="525" y="1435">0.1</text><text x="790" y="1435">0.2</text><text x="1055" y="1435">0.3</text><text x="1320" y="1435">0.4</text></g>
<g text-anchor="end"><text x="100" y="1263">0.0</text><text x="100" y="991">0.1</text><text x="100" y="719">0.2</text><text x="100" y="446">0.3</text><text x="100" y="174">0.4</text></g>
</g>
<g class="d" font-size="30" fill="#111">
<text x="348" y="1465" textLength="873" lengthAdjust="spacingAndGlyphs">Gap between ImageNet and ObjectNet accuracy on images</text>
<text x="348" y="1503" textLength="830" lengthAdjust="spacingAndGlyphs">recognized reliably by humans when viewed for ≤ 17ms</text>
<text transform="translate(22,645) rotate(-90)" text-anchor="middle" textLength="920" lengthAdjust="spacingAndGlyphs">Gap between ImageNet and ObjectNet accuracy on images</text>
<text transform="translate(58,685) rotate(-90)" text-anchor="middle" textLength="840" lengthAdjust="spacingAndGlyphs">recognized reliably by humans when viewed for ≤ 10s</text>
</g>
<rect x="990" y="972" width="377" height="325" fill="#fff" stroke="#ccc" stroke-width="2" rx="4"/>
<g stroke-width="4"><path d="M996 986H1032" stroke="#1f6fbf"/><path d="M996 1013H1032" stroke="#ff7f0e"/><path d="M996 1040H1032" stroke="#2ca02c"/><path d="M996 1066H1032" stroke="#d62728"/><path d="M996 1093H1032" stroke="#9467bd"/><path d="M996 1120H1032" stroke="#8c564b"/><path d="M996 1146H1032" stroke="#e377c2"/><path d="M996 1173H1032" stroke="#7f7f7f"/><path d="M996 1200H1032" stroke="#bcbd22"/><path d="M996 1226H1032" stroke="#17becf"/></g>
<circle cx="1014" cy="1253" r="8" fill="#555"/><path d="M1007 1273l14 14m0-14l-14 14" stroke="#555" stroke-width="4"/>
<g class="d" font-size="18" fill="#222">
<text x="1045" y="992">SimCLR ResNets</text><text x="1045" y="1019">ViT/16 trained on Imagenet21k</text><text x="1045" y="1046">SWSL models</text><text x="1045" y="1072">MSDNet classifier layers</text><text x="1045" y="1099">CLIP ViT models</text><text x="1045" y="1126">CLIP ResNet models</text><text x="1045" y="1152">EfficientNet trained on ImageNet21k</text><text x="1045" y="1179">EfficientNet trained on Imagenet1k</text><text x="1045" y="1206">Resnet</text><text x="1045" y="1232">Human Performance</text><text x="1045" y="1259">ImageNet1k</text><text x="1045" y="1286">Additional Data</text>
</g>
</g>
</svg>
</body></html>
